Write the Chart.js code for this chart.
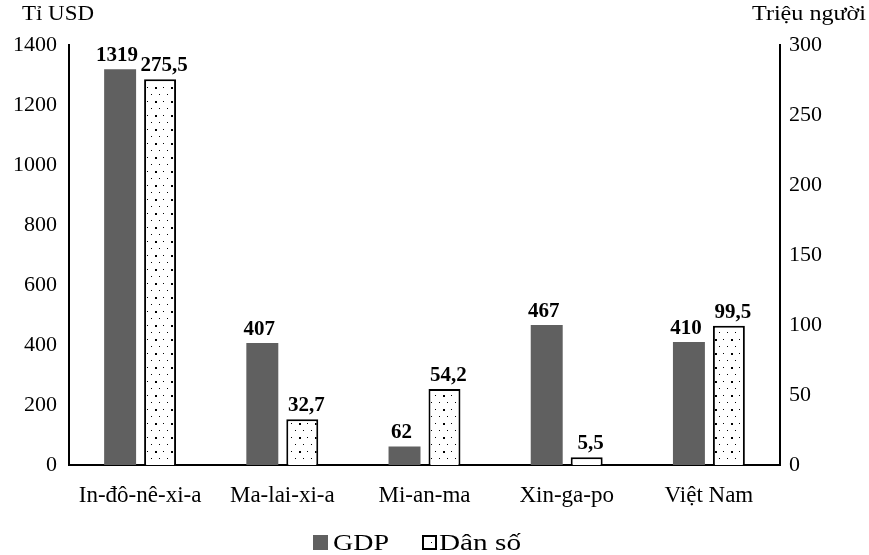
<!DOCTYPE html>
<html><head><meta charset="utf-8">
<script src="https://cdn.jsdelivr.net/npm/chart.js@4.4.0/dist/chart.umd.min.js"></script>
<style>html,body{margin:0;padding:0;background:#fff}#wrap{width:869px;height:555px}</style>
</head><body><div id="wrap"><canvas id="c"></canvas></div>
<script>
const categories = ['In-đô-nê-xi-a','Ma-lai-xi-a','Mi-an-ma','Xin-ga-po','Việt Nam'];
const gdpValues = [1319, 407, 62, 467, 410];
const popValues = [275.5, 32.7, 54.2, 5.5, 99.5];
const gdpTicks = [0,200,400,600,800,1000,1200,1400];
const popTicks = [0,50,100,150,200,250,300];
const seriesNames = ['GDP','Dân số'];
const FONT = "'Liberation Serif','Times New Roman',serif";

function dotPattern(){
  const p = document.createElement('canvas'); p.width=16; p.height=14;
  const g = p.getContext('2d');
  g.fillStyle='#fff'; g.fillRect(0,0,16,14);
  g.fillStyle='#000';
  g.fillRect(3,3,1,1); g.fillRect(11,3,2,2);
  g.fillRect(7,10,1,1); g.fillRect(15,10,1,1);
  return g.createPattern(p,'repeat');
}
const pat = dotPattern();
const fmt = v => String(v).replace('.',',');

function stretchText(ctx, txt, x, y, w, align){
  const m = ctx.measureText(txt).width;
  const s = w / m;
  ctx.save();
  const left = align==='right' ? x - w : x;
  ctx.translate(left, y); ctx.scale(s, 1);
  ctx.textAlign='left';
  ctx.fillText(txt, 0, 0);
  ctx.restore();
}

const labelPlugin = {
  id:'vals',
  afterDatasetsDraw(chart){
    const ctx = chart.ctx;
    ctx.save();
    ctx.font = "bold 21px "+FONT;
    ctx.fillStyle='#000'; ctx.textAlign='center'; ctx.textBaseline='bottom';
    chart.data.datasets.forEach((ds,i)=>{
      const off = i===0 ? -3 : 4;
      chart.getDatasetMeta(i).data.forEach((bar,j)=>{
        ctx.fillText(fmt(ds.data[j]), bar.x+off, bar.y-3);
      });
    });
    // axis titles
    ctx.font = "22px "+FONT;
    ctx.textBaseline='alphabetic';
    stretchText(ctx, 'Tỉ USD', 22, 20, 72, 'left');
    stretchText(ctx, 'Triệu người', 866, 20, 114, 'right');
    // legend
    const ly = 550;
    ctx.font = "24px "+FONT;
    ctx.fillStyle='#606060'; ctx.fillRect(313,535,15,15);
    ctx.fillStyle='#000'; stretchText(ctx, seriesNames[0], 333, ly, 56, 'left');
    ctx.fillStyle=pat; ctx.fillRect(423,536,13,13);
    ctx.strokeStyle='#000'; ctx.lineWidth=2; ctx.strokeRect(423,536,13,13);
    ctx.fillStyle='#000'; stretchText(ctx, seriesNames[1], 439, ly, 82, 'left');
    ctx.restore();
  }
};

new Chart(document.getElementById('c'),{
  type:'bar',
  data:{labels:categories,datasets:[
    {label:seriesNames[0],data:gdpValues,backgroundColor:'#606060',borderWidth:0,yAxisID:'y',
     barPercentage:0.8,categoryPercentage:0.562},
    {label:seriesNames[1],data:popValues,backgroundColor:pat,borderColor:'#000',borderWidth:2,yAxisID:'y1',
     barPercentage:0.8,categoryPercentage:0.562}
  ]},
  options:{
    responsive:true,maintainAspectRatio:false,animation:false,
    layout:{padding:{top:45,bottom:32}},
    plugins:{tooltip:{enabled:false},legend:{display:false}},
    scales:{
      x:{grid:{display:false,drawTicks:false},border:{color:'#000',width:2},
         afterFit(a){a.height=58;},
         ticks:{font:{family:FONT,size:23},color:'#000',padding:17,maxRotation:0}},
      y:{position:'left',min:0,max:1400,afterBuildTicks(a){a.ticks=gdpTicks.map(v=>({value:v}));},
         afterFit(a){a.width=69;},
         grid:{display:false,drawOnChartArea:false,drawTicks:true,tickLength:7,tickColor:'#000',tickWidth:2},
         border:{color:'#000',width:2},
         ticks:{font:{family:FONT,size:22},color:'#000',padding:5,callback:v=>String(v)}},
      y1:{position:'right',min:0,max:300,afterBuildTicks(a){a.ticks=popTicks.map(v=>({value:v}));},
         afterFit(a){a.width=89;},
         grid:{display:false,drawOnChartArea:false,drawTicks:true,tickLength:6,tickColor:'#000',tickWidth:2},
         border:{color:'#000',width:2},
         ticks:{font:{family:FONT,size:22},color:'#000',padding:3,callback:v=>String(v)}}
    }
  },
  plugins:[labelPlugin]
});
</script></body></html>
